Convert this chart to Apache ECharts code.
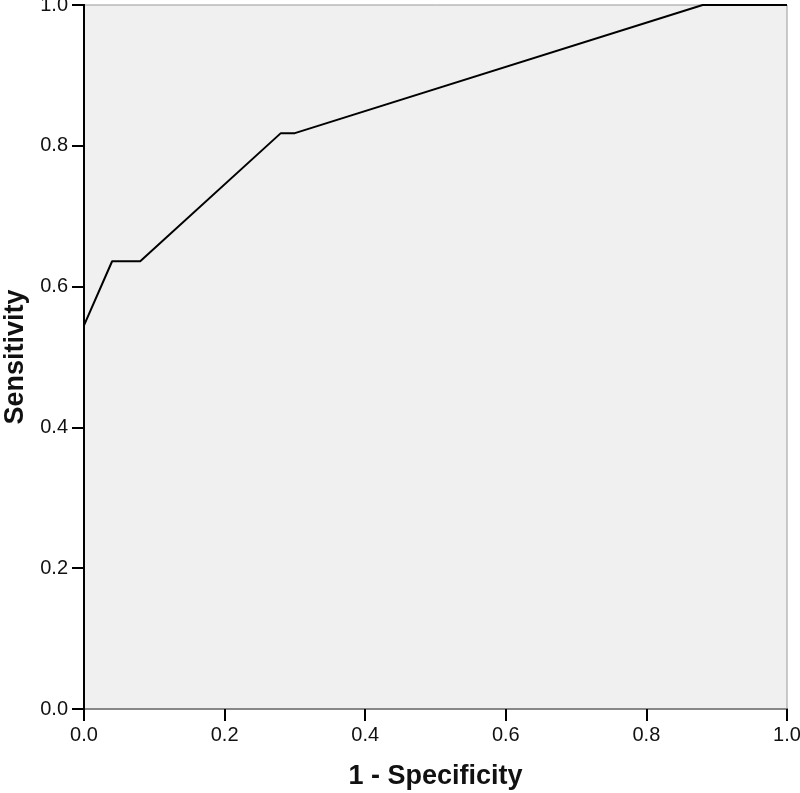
<!DOCTYPE html>
<html>
<head>
<meta charset="utf-8">
<script src="https://cdn.jsdelivr.net/npm/echarts@6/dist/echarts.min.js"></script>
<style>
  html, body { margin: 0; padding: 0; background: #fff; }
  #chart { width: 800px; height: 793px; }
</style>
</head>
<body>
<div id="chart"></div>
<script>
// ROC curve points
const fpr = [0, 0, 0.04, 0.08, 0.28, 0.30, 0.88, 1.0]
const tpr = [0, 0.545, 0.636, 0.636, 0.818, 0.818, 1.0, 1.0]
const xTitle = '1 - Specificity'
const yTitle = 'Sensitivity'

const font = 'Arial, "Liberation Sans", sans-serif'
const chart = echarts.init(document.getElementById('chart'))

const labelStyle = { color: '#111', fontSize: 20, fontFamily: font }
const tickStyle = { show: true, length: 12, lineStyle: { color: '#000', width: 2 } }

const option = {
  animation: false,
  grid: {
    left: 84, right: 13, top: 5, bottom: 84,
    outerBoundsMode: 'none',
    containLabel: false,
    show: true,
    backgroundColor: '#f0f0f0',
    borderColor: '#999',
    borderWidth: 1
  },
  xAxis: [
    {
      type: 'value', min: 0, max: 1, interval: 0.2,
      name: xTitle, nameLocation: 'middle', nameGap: 54,
      nameTextStyle: { color: '#111', fontSize: 27, fontWeight: 'bold', fontFamily: font },
      axisLine: { show: true, onZero: false, lineStyle: { color: '#000', width: 2 } },
      axisTick: tickStyle,
      axisLabel: Object.assign({ margin: 16, formatter: v => v.toFixed(1) }, labelStyle),
      splitLine: { show: false }
    },
    {
      type: 'value', min: 0, max: 1, position: 'top',
      axisLine: { show: true, lineStyle: { color: '#888', width: 2 } },
      axisTick: { show: false }, axisLabel: { show: false }, splitLine: { show: false }
    }
  ],
  yAxis: [
    {
      type: 'value', min: 0, max: 1, interval: 0.2,
      name: yTitle, nameLocation: 'middle', nameGap: 55,
      nameTextStyle: { color: '#111', fontSize: 27, fontWeight: 'bold', fontFamily: font },
      axisLine: { show: true, onZero: false, lineStyle: { color: '#000', width: 2 } },
      axisTick: tickStyle,
      axisLabel: Object.assign({ margin: 16, formatter: v => v.toFixed(1) }, labelStyle),
      splitLine: { show: false }
    },
    {
      type: 'value', min: 0, max: 1, position: 'right',
      axisLine: { show: true, lineStyle: { color: '#000', width: 2 } },
      axisTick: { show: false }, axisLabel: { show: false }, splitLine: { show: false }
    }
  ],
  series: [
    {
      type: 'line',
      symbol: 'none',
      lineStyle: { color: '#000', width: 2 },
      data: fpr.map((x, i) => [x, tpr[i]])
    }
  ]
}

chart.setOption(option)
</script>
</body>
</html>
